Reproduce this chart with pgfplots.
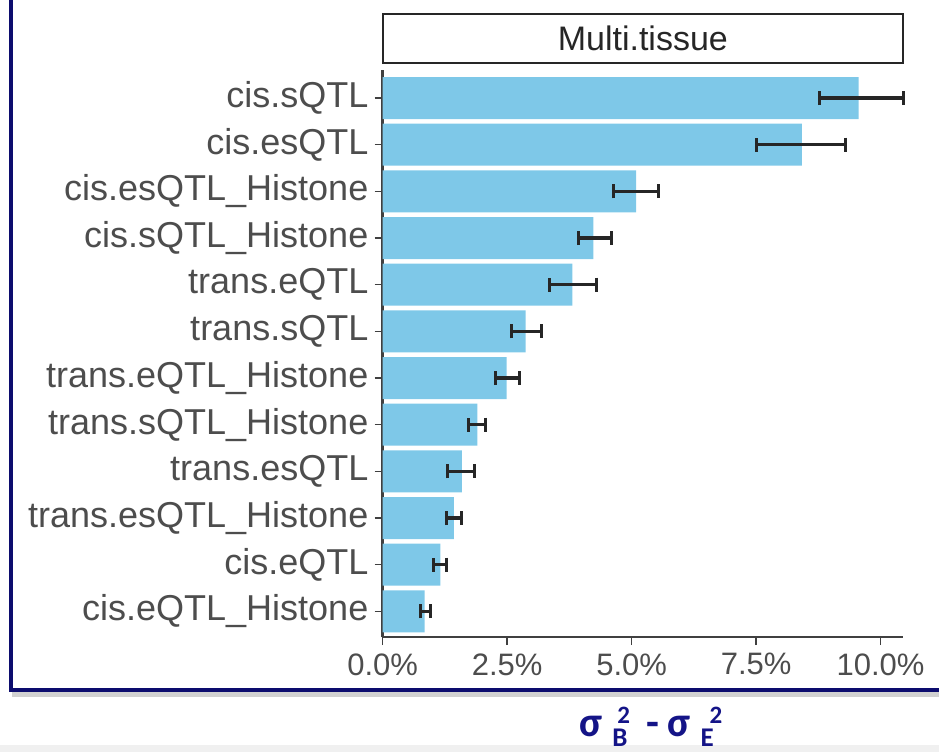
\documentclass[border=0pt]{standalone}
\usepackage{fontspec}
\setmainfont{Liberation Sans}
\newfontfamily\carlito{Carlito}
\usepackage{pgfplots}
\pgfplotsset{compat=1.18}
\definecolor{barblue}{RGB}{126,200,232}
\definecolor{txtgray}{RGB}{77,77,77}
\definecolor{navyframe}{RGB}{12,12,110}
\definecolor{labnavy}{RGB}{20,20,135}
\pgfplotstableread{
y v em ep
0 0.84 0.09 0.12
1 1.16 0.14 0.13
2 1.43 0.14 0.15
3 1.59 0.28 0.26
4 1.90 0.18 0.16
5 2.49 0.23 0.25
6 2.87 0.28 0.32
7 3.81 0.46 0.49
8 4.23 0.30 0.37
9 5.09 0.46 0.44
10 8.42 0.92 0.88
11 9.56 0.79 0.90
}\datatable
\newcommand{\sbs}[3]{\rlap{\raisebox{-5.4pt}{\fontsize{13.5}{13.5}\selectfont #2}}\hspace{#1}\raisebox{6.4pt}{\fontsize{12.5}{12.5}\selectfont #3}}
\begin{document}
\begin{tikzpicture}[x=1pt,y=1pt]
\useasboundingbox (0,0) rectangle (469.5,376);
\fill[gray!12] (0,0) rectangle (469.5,3.5);
\fill[black!18] (6,27.5) rectangle (469.5,30.2);
\draw[navyframe, line width=1.6pt] (5.5,376) -- (5.5,31) -- (469.5,31);
\begin{axis}[at={(191.35pt,57.5pt)}, anchor=south west, scale only axis,
  width=260.15pt, height=283.5pt,
  xmin=0, xmax=10.45, ymin=-0.55, ymax=11.6,
  axis x line*=bottom, axis y line*=left,
  axis line style={line width=1.2pt, draw=black!75, -},
  xtick={0,2.5,5,7.5,10},
  xticklabels={0.0\%,2.5\%,5.0\%,7.5\%,10.0\%},
  ytick={0,...,11},
  yticklabels={cis.eQTL\_Histone,cis.eQTL,trans.esQTL\_Histone,trans.esQTL,trans.sQTL\_Histone,trans.eQTL\_Histone,trans.sQTL,trans.eQTL,cis.sQTL\_Histone,cis.esQTL\_Histone,cis.esQTL,cis.sQTL},
  tick align=outside, major tick length=4pt,
  tick style={line width=0.8pt, black!75},
  xticklabel style={font=\fontsize{15.5}{18}\selectfont, text=txtgray, inner sep=0pt, anchor=north, yshift=-4pt},
  yticklabel style={font=\fontsize{18}{21}\selectfont, text=txtgray, inner sep=0pt, anchor=east, xshift=-3pt},
  clip=false]
\addplot[xbar, bar width=21pt, fill=barblue, draw=none,
  error bars/.cd, x dir=both, x explicit,
  error bar style={line width=1.6pt, black!85},
  error mark options={rotate=90, line width=1.5pt, mark size=3.5pt, black!85}]
  table[x=v, y=y, x error minus=em, x error plus=ep] {\datatable};
\end{axis}
\draw[line width=1pt, black!85, fill=white] (191.35,344.5) rectangle (451.5,369);
\node[font=\fontsize{17}{20}\selectfont, text=black!85] at (321.4,357) {Multi.tissue};
\node[labnavy, font=\carlito\bfseries\fontsize{21}{24}\selectfont, anchor=base west, inner sep=0pt] at (289.5,8) {σ\hspace{5pt}\sbs{2.5pt}{B}{2}\hspace{8.5pt}-\hspace{4pt}σ\hspace{5pt}\sbs{4.5pt}{E}{2}};
\end{tikzpicture}
\end{document}
